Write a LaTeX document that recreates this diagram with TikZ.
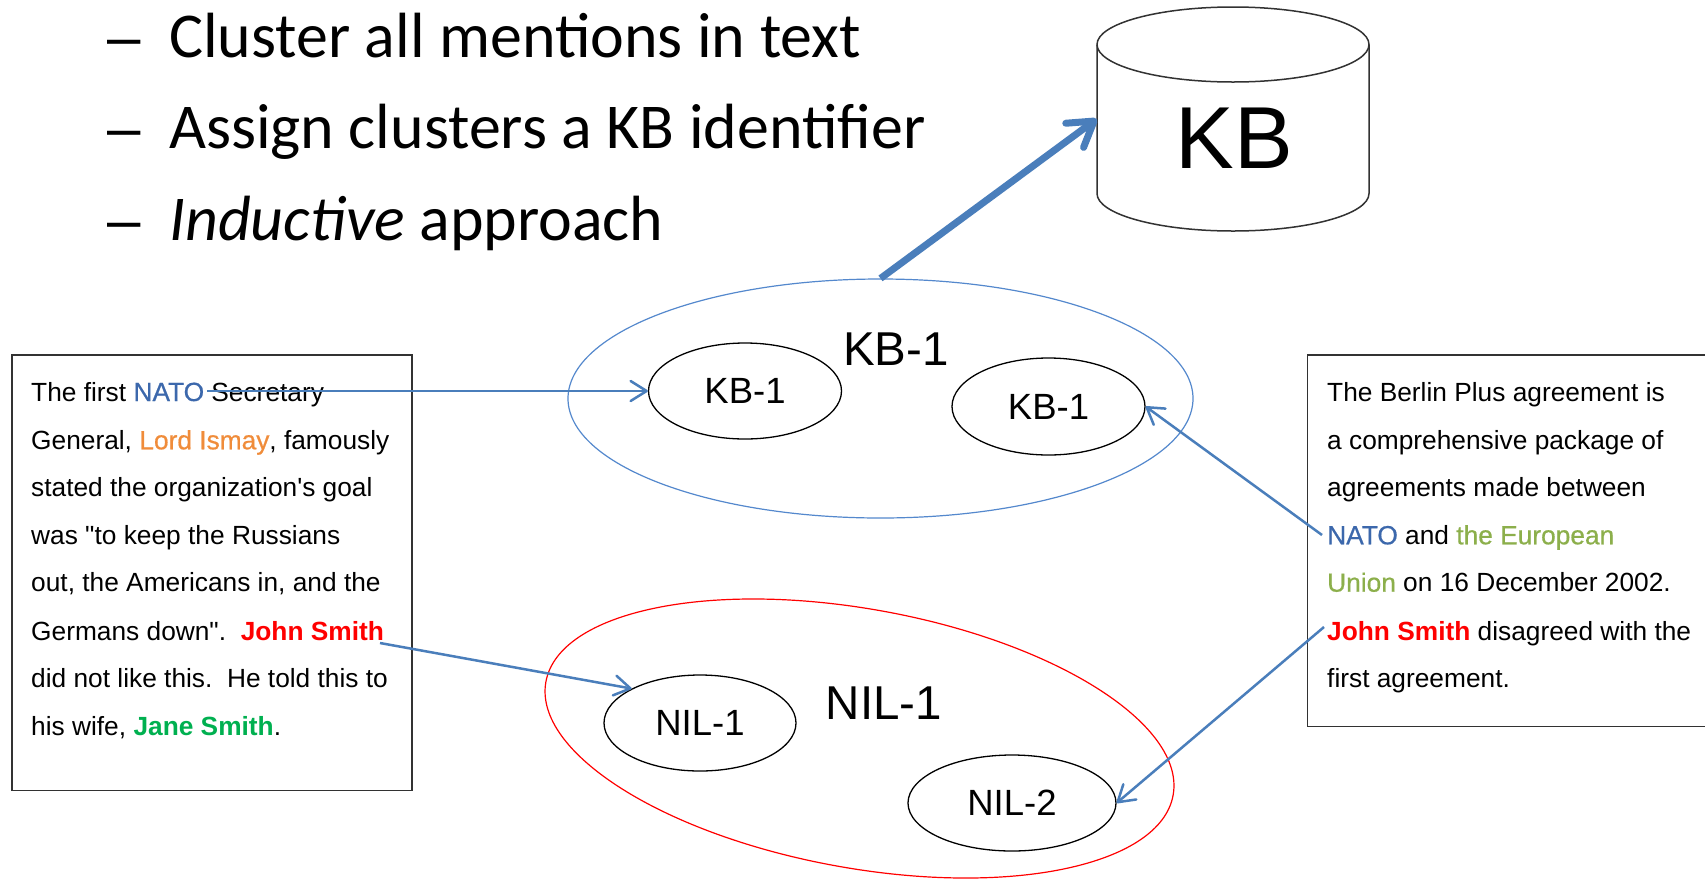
\documentclass[tikz,border=0pt]{standalone}
\usepackage{fontspec}
\setmainfont{Liberation Sans}
\newfontfamily\calib{Carlito}
\newfontfamily\outl[FakeBold=0.6]{Liberation Sans}
\usetikzlibrary{shapes.geometric,arrows.meta}
\definecolor{conblue}{RGB}{74,126,187}
\definecolor{ellblue}{RGB}{84,136,205}
\definecolor{natoblue}{RGB}{60,104,172}
\definecolor{ismay}{RGB}{240,140,58}
\definecolor{euro}{RGB}{140,175,75}
\definecolor{jane}{RGB}{0,176,80}
\definecolor{boxgray}{RGB}{50,50,50}
\newcommand{\ment}[2]{\textcolor{#1}{\outl #2}}
\frenchspacing
\begin{document}
\begin{tikzpicture}[x=1pt,y=-1pt,
  txt/.style={anchor=base west, inner sep=0pt, font=\fontsize{26.3}{30}\selectfont},
  bullet/.style={anchor=base west, inner sep=0pt, font=\calib\fontsize{63.9}{70}\selectfont},
  dashmark/.style={anchor=base west, inner sep=0pt, font=\fontsize{60}{66}\selectfont},
  mention/.style={ellipse, draw=black, line width=1.3pt, inner sep=0pt, font=\fontsize{36.5}{40}\selectfont},
  cluster/.style={ellipse, draw, line width=1.2pt, inner sep=0pt},
  biglabel/.style={inner sep=0pt, font=\fontsize{47.5}{52}\selectfont},
  textbox/.style={draw=boxgray, line width=1.5pt, inner sep=0pt},
  link/.style={draw=conblue, line width=2.5pt, -{Straight Barb[length=16pt,width=20pt,round]}},
  bigarrow/.style={draw=conblue, line width=7pt, -{Straight Barb[length=24pt,width=30pt,round]}},
]
\useasboundingbox (0,0) rectangle (1705,879);
\fill[white] (0,0) rectangle (1705,879);

% bullets
\node[dashmark] (d1) at (107,57) {–};
\node[bullet] (b1) at (169,57) {Cluster all mentions in text};
\node[dashmark] (d2) at (107,148.3) {–};
\node[bullet] (b2) at (169,148.3) {Assign clusters a KB identifier};
\node[dashmark] (d3) at (107,240) {–};
\node[bullet] (b3) at (169,240) {\itshape Inductive\upshape{} approach};

% KB cylinder
\node[inner sep=0pt, minimum width=272pt, minimum height=224pt] (kb) at (1233,119) {};
\draw[line width=1.5pt, boxgray] (1233,44.5) ellipse [x radius=136pt, y radius=37.5pt];
\draw[line width=1.5pt, boxgray] (1097,44.5) -- (1097,193.5)
  arc[start angle=180, end angle=360, x radius=136pt, y radius=37.5pt] -- (1369,44.5);
\node[inner sep=0pt, font=\fontsize{88}{92}\selectfont] (kblabel) at (1234.5,138.5) {KB};

% text boxes
\node[textbox, minimum width=400pt, minimum height=435.7pt] (leftbox) at (212,572.85) {};
\node[textbox, minimum width=420pt, minimum height=371.7pt] (rightbox) at (1517.3,540.85) {};

\node[txt] (l1) at (31,401) {The first \ment{natoblue}{NATO} Secretary};
\node[txt] (l2) at (31,449.3) {General, \ment{ismay}{Lord Ismay}, famously};
\node[txt] (l3) at (31,496.7) {stated the organization\textquotesingle s goal};
\node[txt] (l4) at (31,544.3) {was \textquotedbl to keep the Russians};
\node[txt] (l5) at (31,591.7) {out, the Americans in, and the};
\node[txt] (l6) at (31,640) {Germans down\textquotedbl .~ \textcolor{red}{\bfseries John Smith}};
\node[txt] (l7) at (31,687.7) {did not like this.~ He told this to};
\node[txt] (l8) at (31,735.7) {his wife, \textcolor{jane}{\bfseries Jane Smith}.};

\node[txt] (r1) at (1327,401) {The Berlin Plus agreement is};
\node[txt] (r2) at (1327,449.3) {a comprehensive package of};
\node[txt] (r3) at (1327,496.7) {agreements made between};
\node[txt] (r4) at (1327,544.3) {\ment{natoblue}{NATO} and \ment{euro}{the European}};
\node[txt] (r5) at (1327,591.7) {\ment{euro}{Union} on 16 December 2002.};
\node[txt] (r6) at (1327,640) {\textcolor{red}{\bfseries John Smith} disagreed with the};
\node[txt] (r7) at (1327,687.7) {first agreement.};

% clusters
\node[cluster, draw=ellblue, minimum width=625pt, minimum height=239pt] (kbcluster) at (880.5,398.5) {};
\node[cluster, draw=red, minimum width=637.4pt, minimum height=259pt, rotate=-10.25] (nilcluster) at (859.5,738.5) {};
\node[biglabel] (kbclabel) at (896,349.5) {KB-1};
\node[biglabel] (nilclabel) at (884,703) {NIL-1};

% mentions
\node[mention, minimum width=193pt, minimum height=96pt] (kbA) at (745,391) {KB-1};
\node[mention, minimum width=193pt, minimum height=97pt] (kbB) at (1048.5,406.5) {KB-1};
\node[mention, minimum width=192pt, minimum height=96pt] (nilA) at (700,723) {NIL-1};
\node[mention, minimum width=208pt, minimum height=96pt] (nilB) at (1012,803) {NIL-2};

% connector ends in the texts
\coordinate (natoL) at (207,391);
\coordinate (johnL) at (380,643);
\coordinate (natoR) at (1322,535);
\coordinate (johnR) at (1324,627);

\draw[link] (natoL) -- (kbA.west);
\draw[link] (johnL) -- (nilA.north west);
\draw[link] (natoR) -- (kbB.east);
\draw[link] (johnR) -- (nilB.east);

\draw[bigarrow] (kbcluster.north) -- (kb.west);
\end{tikzpicture}
\end{document}
